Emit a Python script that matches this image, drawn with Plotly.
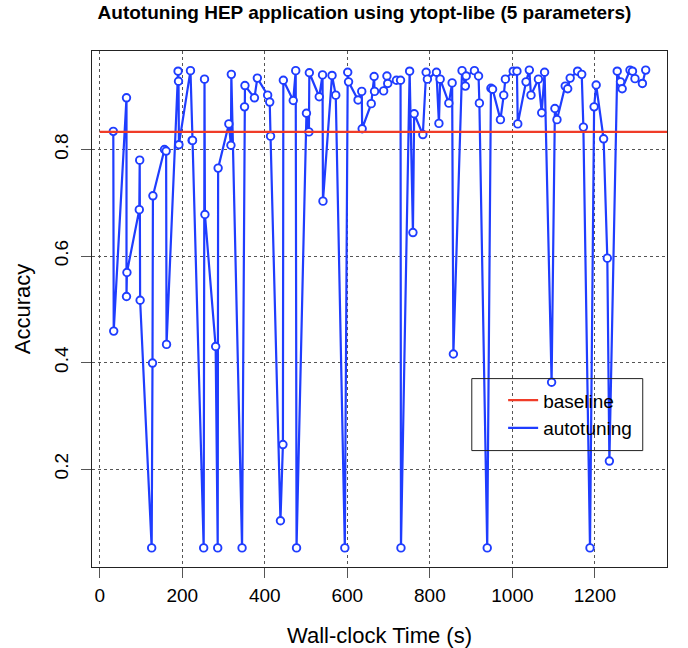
import plotly.graph_objects as go

# ---- data ----
wall_time = [33, 34, 65, 65, 66, 96, 97, 98, 126, 128,
             129, 157, 161, 162, 190, 191, 192, 220, 224, 225,
             252, 254, 255, 281, 286, 287, 313, 318, 319, 345,
             351, 352, 375, 382, 407, 412, 414, 438, 444, 445,
             469, 475, 477, 501, 507, 508, 532, 540, 541, 563,
             572, 594, 601, 603, 626, 635, 636, 658, 665, 666,
             688, 696, 698, 719, 729, 730, 751, 759, 762, 783,
             791, 794, 816, 822, 825, 846, 854, 857, 878, 886,
             888, 908, 918, 920, 939, 948, 952, 971, 979, 983,
             1002, 1011, 1013, 1033, 1041, 1045, 1063, 1071, 1078, 1095,
             1103, 1108, 1128, 1134, 1140, 1158, 1168, 1172, 1188, 1198,
             1203, 1221, 1230, 1235, 1254, 1262, 1266, 1285, 1291, 1297,
             1315, 1323]
accuracy = [0.834, 0.459, 0.897, 0.524, 0.569, 0.687, 0.780, 0.517, 0.052, 0.399,
            0.713, 0.800, 0.797, 0.434, 0.947, 0.928, 0.809, 0.948, 0.817, 0.817,
            0.052, 0.932, 0.678, 0.430, 0.052, 0.765, 0.848, 0.808, 0.941, 0.052,
            0.880, 0.920, 0.897, 0.934, 0.902, 0.889, 0.825, 0.103, 0.246, 0.930,
            0.892, 0.948, 0.052, 0.868, 0.833, 0.944, 0.899, 0.940, 0.703, 0.939,
            0.902, 0.052, 0.945, 0.927, 0.893, 0.909, 0.839, 0.886, 0.937, 0.909,
            0.910, 0.938, 0.924, 0.930, 0.930, 0.052, 0.947, 0.644, 0.867, 0.828,
            0.945, 0.932, 0.945, 0.849, 0.932, 0.887, 0.925, 0.416, 0.948, 0.919,
            0.938, 0.948, 0.938, 0.887, 0.052, 0.915, 0.913, 0.856, 0.902, 0.932,
            0.947, 0.947, 0.848, 0.927, 0.949, 0.902, 0.932, 0.869, 0.945, 0.363,
            0.877, 0.856, 0.919, 0.914, 0.934, 0.947, 0.941, 0.842, 0.052, 0.880,
            0.921, 0.820, 0.596, 0.215, 0.947, 0.927, 0.914, 0.949, 0.947, 0.933,
            0.924, 0.949]
baseline_value = 0.833
baseline_start = 0
x_ticks = [0, 200, 400, 600, 800, 1000, 1200]
y_ticks = [0.2, 0.4, 0.6, 0.8]

# R-style 4% axis padding
xmin, xmax = min(wall_time), max(wall_time)
ymin, ymax = min(accuracy), max(accuracy)
xpad = 0.04 * (xmax - xmin)
ypad = 0.04 * (ymax - ymin)
xr = [xmin - xpad, xmax + xpad]
yr = [ymin - ypad, ymax + ypad]

BLUE = "#1f3dff"
RED = "#f03c28"
FONT = "Liberation Sans, Arial, Helvetica, sans-serif"

fig = go.Figure()
fig.add_trace(go.Scatter(x=wall_time, y=accuracy, mode="lines", name="autotuning",
                         line=dict(color=BLUE, width=2.2), legendrank=2))
fig.add_trace(go.Scatter(x=wall_time, y=accuracy, mode="markers", showlegend=False,
                         marker=dict(symbol="circle", size=7.5, color="white",
                                     line=dict(color=BLUE, width=1.9))))
fig.add_trace(go.Scatter(x=[baseline_start, xr[1]], y=[baseline_value, baseline_value],
                         mode="lines", name="baseline",
                         line=dict(color=RED, width=2.2), legendrank=1))

axis_common = dict(showline=True, mirror=True, linecolor="#222", linewidth=1,
                   ticks="outside", ticklen=10, tickwidth=1.3, tickcolor="#555",
                   showgrid=True, gridcolor="#555", griddash="dot", gridwidth=1,
                   zeroline=False, automargin=False,
                   tickfont=dict(size=19, color="black", family=FONT))

fig.update_layout(
    width=688, height=648,
    margin=dict(l=92, r=21, t=51, b=81),
    paper_bgcolor="white", plot_bgcolor="white",
    font=dict(family=FONT, color="black", size=19),
    title=dict(text="<b>Autotuning HEP application using ytopt-libe (5 parameters)</b>",
               x=0.5298, xref="container", xanchor="center",
               y=0.9807, yref="container", yanchor="middle",
               font=dict(size=19, family=FONT, color="black")),
    xaxis=dict(range=xr, tickvals=x_ticks, ticklabelstandoff=1,
               title=dict(text="Wall-clock Time (s)", standoff=26,
                          font=dict(size=22, family=FONT)),
               **axis_common),
    yaxis=dict(range=yr, tickvals=y_ticks, tickangle=-90, ticklabelstandoff=5,
               title=dict(text="Accuracy", standoff=14,
                          font=dict(size=22, family=FONT)),
               **axis_common),
    legend=dict(x=0.715, y=0.36, xanchor="left", yanchor="top",
                bgcolor="rgba(0,0,0,0)", borderwidth=0,
                font=dict(size=19, family=FONT, color="black"),
                tracegroupgap=0),
    shapes=[dict(type="rect", xref="paper", yref="paper",
                 x0=0.6605, x1=0.9578, y0=0.2256, y1=0.3651,
                 line=dict(color="#222", width=1), fillcolor="rgba(0,0,0,0)")],
)

fig.write_html("out.html",
               config={"displayModeBar": False},
               post_script="document.body.style.margin='0';document.body.style.padding='0';")
